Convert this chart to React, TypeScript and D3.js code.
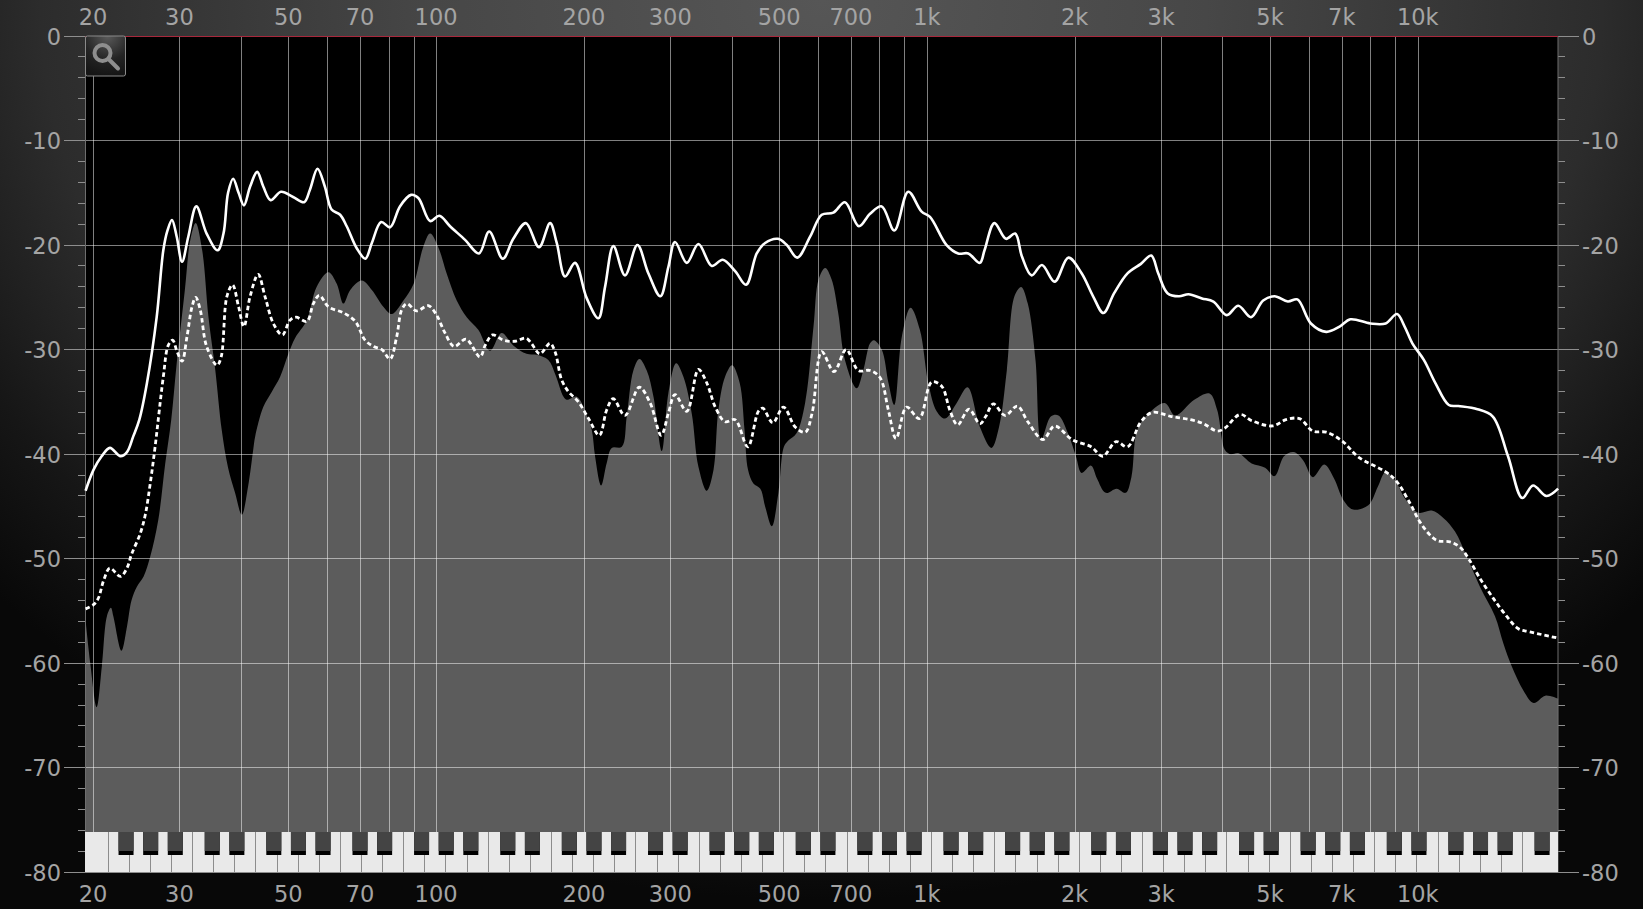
import React from 'react';
import * as d3 from 'd3';

// Spectrum analyser: peak hold line, average (dotted) line, live spectrum fill.
const WIDTH = 1643;
const HEIGHT = 909;

const freqTicks = [20, 30, 50, 70, 100, 200, 300, 500, 700, 1000, 2000, 3000, 5000, 7000, 10000];
const freqGrid = [20, 30, 40, 50, 60, 70, 80, 90, 100, 200, 300, 400, 500, 600, 700, 800, 900, 1000, 2000, 3000, 4000, 5000, 6000, 7000, 8000, 9000, 10000];
const dbTicks = [0, -10, -20, -30, -40, -50, -60, -70, -80];
const dbMinorTicks = d3.range(-78, 0, 2).filter(d => d % 10 !== 0);

// [Hz, dB]
const peakCurve: [number, number][] = [
  [19.27, -43.5], [20, -41.5], [20.78, -40.2], [21.6, -39.4], [22.7, -40.2], [23.4, -39.8], [24.1, -38.3], [24.8, -36.7], [25.7, -33.2], [26.9, -26.9],
  [27.75, -20.5], [28.3, -18.6], [28.9, -17.6], [29.55, -19.2], [30.3, -21.6], [31.2, -19.2], [32.4, -16.3], [34, -18.9], [35.8, -20.5], [36.8, -18.9],
  [37.6, -15], [38.5, -13.65], [39.5, -15], [40.5, -16.2], [41.7, -14.4], [43.1, -13], [44.35, -14.4], [45.9, -15.7], [48.2, -14.9], [51, -15.4],
  [53.7, -15.9], [55.2, -14.7], [57.2, -12.7], [59.2, -14.4], [61.1, -16.6], [63.6, -17.1], [65.6, -18.2], [68.75, -20.3], [71.6, -21.3], [73.8, -19.8],
  [77.1, -17.8], [80.4, -18.3], [84.2, -16.3], [88.7, -15.2], [91.8, -15.5], [97, -17.7], [101.3, -17.2], [106.5, -18.2], [114.3, -19.5], [122, -20.8],
  [128, -18.7], [136.4, -21.3], [143.3, -19.4], [152, -17.9], [161.7, -20.2], [170.3, -17.9], [175.7, -19.8], [182.7, -23], [191.4, -21.7], [202.3, -25.1],
  [213.6, -27], [220.4, -24], [229.2, -20.1], [242, -22.9], [256.5, -20], [270, -22.7], [285.7, -24.9], [296.6, -22.1], [306, -19.7], [323.4, -21.7],
  [341.5, -19.9], [363.6, -22], [382.7, -21.4], [405.7, -22.5], [427, -23.8], [449, -20.8], [467, -19.8], [496, -19.4], [517, -20], [543, -21.2],
  [576.7, -19.2], [609, -17.1], [643, -16.9], [679, -15.9], [725, -18.2], [764, -17], [807, -16.3], [856, -18.6], [914, -14.9], [973, -16.8],
  [1012, -17.3], [1094, -20], [1155, -20.8], [1211, -20.8], [1279, -21.7], [1307, -20.5], [1369, -17.9], [1445, -19.4], [1509, -18.9], [1558, -21.1],
  [1630, -22.9], [1711, -21.9], [1816, -23.5], [1937, -21.2], [2061, -22.7], [2175, -24.9], [2283, -26.5], [2401, -24.6], [2556, -22.7], [2722, -21.8],
  [2857, -21], [2952, -22.7], [3083, -24.6], [3254, -24.9], [3404, -24.7], [3624, -25.1], [3824, -25.4], [4072, -26.7], [4298, -25.8], [4562, -26.9],
  [4830, -25.3], [5095, -24.9], [5423, -25.4], [5672, -25.2], [6042, -27.5], [6492, -28.3], [6913, -27.8], [7271, -27.1], [7985, -27.5], [8579, -27.5],
  [9047, -26.6], [9379, -27.8], [9724, -29.4], [10270, -31], [10835, -33.2], [11538, -35.3], [12070, -35.4], [13200, -35.7], [14184, -36.4], [15233, -40.2],
  [16290, -44.2], [17130, -43], [18240, -44], [19270, -43.3],
];

const averageCurve: [number, number][] = [
  [19.27, -54.8], [20, -54.4], [20.45, -53.8], [21, -52], [21.6, -50.9], [22.7, -51.7], [23.4, -50.9], [23.9, -49.6], [24.9, -47.6], [25.5, -45.8],
  [26.1, -42.8], [26.7, -39.3], [27.75, -32.6], [28.4, -29.6], [29, -29.1], [29.6, -30.2], [30.3, -31.1], [31, -28.8], [31.75, -25.9], [32.3, -25],
  [33, -26.2], [34, -29.7], [35.7, -31.5], [36.4, -30.7], [37.4, -24.9], [38.4, -23.8], [39.5, -25.9], [40.5, -27.8], [41.7, -24.9], [43.3, -22.8],
  [44.7, -24.9], [46.5, -27.5], [48.5, -28.6], [50.25, -27.2], [51.7, -26.9], [54.4, -27.3], [56.1, -25.6], [57.7, -24.8], [60.2, -25.9], [64.7, -26.5],
  [68.3, -27.3], [71.5, -29.1], [74.4, -29.7], [77.4, -30], [80.4, -30.9], [82.9, -28.8], [84.9, -26.2], [87, -25.6], [91, -26.3], [96.2, -25.8],
  [100, -26.7], [104, -28.4], [108.6, -29.7], [114.8, -29], [122.6, -30.7], [125.6, -29.6], [130, -28.6], [136.8, -29.1], [144.6, -29.2], [152, -28.9],
  [156, -29.4], [162.3, -30.4], [170.3, -29.4], [174.3, -30.2], [179.8, -32.9], [185.5, -34], [194.5, -35], [204, -36.6], [214.6, -38.2], [222, -35.8],
  [229, -34.7], [242, -36.3], [258.8, -33.6], [272.3, -35.1], [286.8, -38.2], [296.6, -36.1], [306, -34.3], [323.4, -35.9], [341.5, -31.9], [355.3, -33.2],
  [369.7, -35.5], [387, -36.9], [405.7, -36.7], [430.5, -39.3], [452.5, -35.9], [462, -35.6], [484, -37], [509, -35.5], [537.7, -37.4], [563.6, -37.9],
  [582, -36.1], [609, -30.2], [645, -32.1], [683, -30], [723, -32], [764, -32], [801, -32.7], [832.6, -35.8], [863, -38.5], [907, -35.5],
  [962, -36.6], [1020, -33.1], [1069, -33.5], [1111, -35.8], [1152, -37.2], [1215, -35.7], [1279, -37.1], [1314, -36.4], [1362, -35.2], [1439, -36.3],
  [1525, -35.4], [1601, -36.9], [1719, -38.6], [1816, -37.3], [1970, -38.6], [2155, -39.3], [2276, -40.2], [2423, -38.8], [2556, -39.3], [2722, -36.9],
  [2873, -36], [3140, -36.4], [3434, -36.7], [3657, -37.1], [3894, -37.8], [4037, -37.5], [4336, -36.2], [4576, -36.8], [5050, -37.3], [5377, -36.7],
  [5726, -36.6], [6099, -37.8], [6492, -37.9], [6978, -38.7], [7564, -40.3], [8579, -41.7], [9030, -42.6], [9618, -44.7], [10080, -46.5], [10650, -47.9],
  [10985, -48.3], [11600, -48.4], [12160, -48.9], [12660, -50], [13360, -51.9], [14220, -53.8], [15130, -55.5], [15990, -56.7], [16880, -57], [19270, -57.6],
];

const spectrumCurve: [number, number][] = [
  [19.27, -55.9], [19.7, -60], [20.3, -64.2], [20.8, -60.3], [21.3, -55.5], [21.7, -54.7], [21.95, -55.5], [22.8, -58.8], [23.4, -56.5], [23.9, -54],
  [24.5, -52.7], [25.3, -51.7], [26.1, -49.8], [27.1, -46.3], [28, -40.9], [28.8, -36.7], [29.55, -31.3], [30.7, -24.3], [31.5, -19.5], [32.3, -17.9],
  [33.3, -20.5], [34.3, -26.9], [35.4, -31.9], [36.5, -37.7], [37.6, -41.3], [38.85, -43.7], [40.1, -45.8], [41.3, -43.1], [42.3, -39.6], [42.7, -38.3],
  [44.35, -35.5], [46.2, -34], [48, -32.6], [49.9, -30.4], [51.5, -28.9], [54.4, -27.2], [56.96, -24], [60.2, -22.6], [62.6, -23.7], [64.6, -25.6],
  [66.7, -24.3], [70.4, -23.4], [73.8, -24.3], [77.9, -25.9], [81, -26.6], [85.6, -25.3], [89.8, -23.7], [93.9, -20.2], [97, -18.9], [100.8, -20.2],
  [104.8, -22.7], [109.9, -25.3], [115.2, -26.9], [121.6, -28.1], [128.5, -30.1], [135.7, -28.4], [143.3, -29.6], [152.5, -30.4], [159.9, -30.5], [168.9, -31],
  [174.3, -32.3], [181.4, -34.5], [184.3, -34.8], [193, -34.5], [202.3, -36.3], [207.1, -37.7], [210.3, -40.2], [216.4, -43], [222, -40.9], [227.4, -39.4],
  [238.4, -39.3], [244, -36.4], [251.7, -32], [259, -30.9], [268, -32], [276.6, -34.5], [287.6, -39.7], [296.6, -34.2], [307.6, -31.3], [318.3, -32.6],
  [331, -36.1], [341.5, -41.2], [355.3, -43.5], [366.6, -41.5], [375, -35.8], [387, -32.6], [400, -31.5], [414.5, -33.2], [424, -37.7], [431, -41.5],
  [442, -42.8], [456.6, -43.3], [467, -45], [481.9, -46.9], [497, -43.7], [510, -39.3], [520.6, -38.7], [541, -38], [563.3, -35.1], [586, -27.8],
  [600, -23.3], [619, -22.2], [638, -23.3], [658, -26.5], [679, -31], [717.6, -33.7], [740, -32], [764, -29.4], [778, -29.1], [807, -30],
  [833, -33.2], [856, -35.3], [886.6, -28.8], [924, -26], [965, -28.1], [1004, -33.2], [1044, -35.9], [1086, -36.6], [1147, -35.1], [1207, -33.6],
  [1279, -37.4], [1350, -39.4], [1399, -37.4], [1451, -32], [1504, -24.9], [1552, -24], [1601, -25.6], [1660, -31], [1705, -38.6], [1784, -36.4],
  [1849, -36.3], [1933, -38], [2007, -40.2], [2061, -41.8], [2155, -41.1], [2214, -42.3], [2308, -43.7], [2430, -43.3], [2534, -43.7], [2603, -42.2],
  [2674, -37.7], [2797, -36.3], [3044, -35.1], [3196, -36.3], [3496, -34.8], [3756, -34.2], [3894, -35.8], [4037, -39.6], [4147, -40], [4298, -39.9],
  [4576, -40.9], [4874, -41.3], [5095, -42.1], [5327, -40.2], [5572, -39.8], [5829, -40.6], [6099, -42.2], [6434, -41], [6731, -42.3], [7040, -44.4],
  [7364, -45.3], [7909, -44.9], [8275, -43.1], [8579, -41.7], [8966, -42.5], [9380, -44.2], [10000, -45.6], [10650, -45.4], [11245, -46.1], [11880, -47.4],
  [12550, -49.8], [13360, -52.7], [14330, -55.5], [14900, -58.1], [15500, -60.3], [16370, -62.6], [17180, -63.8], [18150, -63.1], [19270, -63.4],
];

// piano strip along the bottom of the plot
const blackPitchClasses = [1, 3, 6, 8, 10];
const blackNotes = d3.range(18, 134).filter(m => blackPitchClasses.includes(m % 12));
const whiteSeparators = d3.range(0, 68).map(k => 21.43 * Math.pow(2, k / 7));

const formatFreq = (f: number) => (f >= 1000 ? `${f / 1000}k` : `${f}`);
const noteHz = (m: number) => 440 * Math.pow(2, (m - 69) / 12);

export default function App() {
  const plotLeft = 85.5;
  const plotRight = 1558;
  const plotTop = 36;
  const plotBottom = 872.3;
  const pianoTop = 832;

  const x = d3.scaleLog().domain([20, 10000]).range([93.5, 1418.3]);
  const y = d3.scaleLinear().domain([0, -80]).range([plotTop, plotBottom]);

  const curve = d3.curveCatmullRom.alpha(0.5);

  const line = d3.line<[number, number]>()
    .x(d => x(d[0]))
    .y(d => y(d[1]))
    .curve(curve);

  const area = d3.area<[number, number]>()
    .x(d => x(d[0]))
    .y0(pianoTop)
    .y1(d => y(d[1]))
    .curve(curve);

  const labelStyle = { fontFamily: '"DejaVu Sans", sans-serif', fontSize: 22.5, fill: '#a4a4a4' };
  const px = (v: number) => Math.floor(v) + 0.5;

  return (
    <svg
      width={WIDTH}
      height={HEIGHT}
      viewBox={`0 0 ${WIDTH} ${HEIGHT}`}
      style={{ position: 'absolute', left: 0, top: 0, display: 'block' }}
    >
      <defs>
        <radialGradient id="frameBg" gradientUnits="userSpaceOnUse" cx={0} cy={0} r={1}
          gradientTransform={`translate(${WIDTH / 2},0) scale(1100,900)`}>
          <stop offset="0" stopColor="#565656" />
          <stop offset="0.35" stopColor="#474747" />
          <stop offset="0.71" stopColor="#2c2c2c" />
          <stop offset="0.87" stopColor="#161616" />
          <stop offset="1" stopColor="#080808" />
        </radialGradient>
        <radialGradient id="btnBg" cx="0.55" cy="0" r="1">
          <stop offset="0" stopColor="#5a5a5a" />
          <stop offset="0.6" stopColor="#242424" />
          <stop offset="1" stopColor="#151515" />
        </radialGradient>
      </defs>

      <rect width={WIDTH} height={HEIGHT} fill="url(#frameBg)" />
      <rect x={plotLeft} y={plotTop} width={plotRight - plotLeft} height={plotBottom - plotTop} fill="#000" />

      {/* live spectrum */}
      <path d={area(spectrumCurve) ?? ''} fill="#5c5c5c" />

      {/* vertical grid */}
      {freqGrid.map(f => (
        <line key={f} x1={px(x(f))} x2={px(x(f))} y1={plotTop} y2={pianoTop} stroke="#fff" strokeOpacity={0.5} />
      ))}

      {/* horizontal grid + ticks */}
      {dbTicks.filter(d => d !== 0 && d !== -80).map(d => (
        <line key={d} x1={plotLeft} x2={plotRight} y1={px(y(d))} y2={px(y(d))} stroke="#fff" strokeOpacity={0.5} />
      ))}
      {dbTicks.map(d => (
        <g key={d} stroke="#8e8e8e">
          <line x1={64} x2={plotLeft} y1={px(y(d))} y2={px(y(d))} />
          <line x1={plotRight} x2={1579} y1={px(y(d))} y2={px(y(d))} />
        </g>
      ))}
      {dbMinorTicks.map(d => (
        <g key={d} stroke="#8e8e8e">
          <line x1={78} x2={plotLeft} y1={px(y(d))} y2={px(y(d))} />
          <line x1={plotRight} x2={1565} y1={px(y(d))} y2={px(y(d))} />
        </g>
      ))}
      <line x1={plotLeft} x2={plotLeft} y1={plotTop} y2={plotBottom} stroke="#6e6e6e" />
      <line x1={plotRight} x2={plotRight} y1={plotTop} y2={plotBottom} stroke="#6e6e6e" />
      <line x1={plotLeft} x2={plotRight} y1={px(plotTop)} y2={px(plotTop)} stroke="#a8283c" />

      {/* piano */}
      <rect x={plotLeft - 0.5} y={pianoTop} width={plotRight - plotLeft + 0.5} height={plotBottom - pianoTop} fill="#e9e9e9" />
      {whiteSeparators.map(f => (
        <line key={f} x1={px(x(f))} x2={px(x(f))} y1={pianoTop} y2={plotBottom} stroke="#8c8c8c" />
      ))}
      {blackNotes.map(m => {
        const cx = x(noteHz(m)) + 1.6;
        return (
          <g key={m}>
            <rect x={cx - 7.5} y={pianoTop} width={15} height={23} fill="#000" />
            <rect x={cx - 7.5} y={pianoTop} width={15} height={19} fill="#444" />
          </g>
        );
      })}
      <line x1={plotLeft} x2={plotRight} y1={px(plotBottom)} y2={px(plotBottom)} stroke="#8e8e8e" />

      {/* curves */}
      <path d={line(peakCurve) ?? ''} fill="none" stroke="#fff" strokeWidth={2.6} />
      <path d={line(averageCurve) ?? ''} fill="none" stroke="#fff" strokeWidth={2.8} strokeDasharray="4.5 3" />

      {/* zoom button */}
      <g>
        <rect x={plotLeft} y={plotTop} width={40} height={40} rx={2} fill="url(#btnBg)" stroke="#8a8a8a" />
        <circle cx={102.5} cy={53} r={8} fill="none" stroke="#8e8e8e" strokeWidth={4} />
        <line x1={108.5} y1={59} x2={118} y2={68.5} stroke="#8e8e8e" strokeWidth={4} strokeLinecap="round" />
      </g>

      {/* labels */}
      {freqTicks.map(f => (
        <g key={f} style={labelStyle} textAnchor="middle">
          <text x={x(f) - 0.5} y={25}>{formatFreq(f)}</text>
          <text x={x(f) - 0.5} y={902}>{formatFreq(f)}</text>
        </g>
      ))}
      {dbTicks.map(d => (
        <g key={d} style={labelStyle}>
          <text x={61} y={y(d) + 8.5} textAnchor="end">{d}</text>
          <text x={1582} y={y(d) + 8.5}>{d}</text>
        </g>
      ))}
    </svg>
  );
}
